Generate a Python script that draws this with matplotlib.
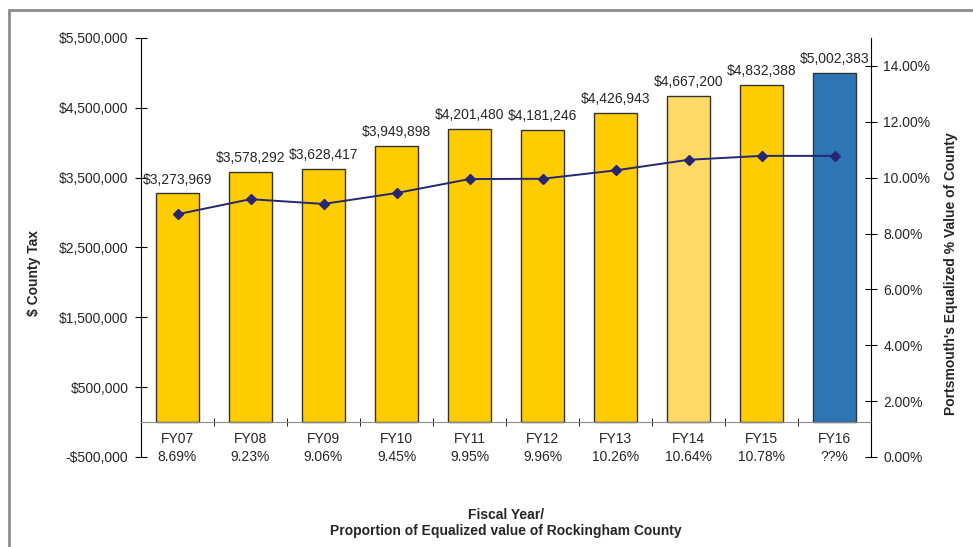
import matplotlib
matplotlib.use("Agg")
import matplotlib.pyplot as plt
from matplotlib.patches import Rectangle
from matplotlib.ticker import FuncFormatter
import numpy as np

plt.rcParams['font.family'] = ['Liberation Sans', 'DejaVu Sans']

# Fiscal years and county tax paid
years = ['FY07', 'FY08', 'FY09', 'FY10', 'FY11', 'FY12', 'FY13', 'FY14', 'FY15', 'FY16']
share_labels = ['8.69%', '9.23%', '9.06%', '9.45%', '9.95%', '9.96%', '10.26%',
                '10.64%', '10.78%', '??%']
county_tax = [3273969, 3578292, 3628417, 3949898, 4201480, 4181246, 4426943,
              4667200, 4832388, 5002383]
# Portsmouth's share of county equalized value (%)
equalized_share = [8.69, 9.23, 9.06, 9.45, 9.95, 9.96, 10.26, 10.64, 10.78, 10.78]

bar_colors = ['#FFCC00'] * 7 + ['#FFD966', '#FFCC00', '#2E75B6']
text_color = '#262626'

fig = plt.figure(figsize=(9.73, 5.47), dpi=100)
ax = fig.add_axes([141 / 973, 1 - 457 / 547, 730 / 973, 419 / 547])

x = np.arange(len(years))
bars = ax.bar(x, county_tax, width=0.58, color=bar_colors, edgecolor='#333333',
              linewidth=1.0, zorder=2)

for xi, v in zip(x, county_tax):
    ax.annotate(f'${v:,.0f}', (xi, v), xytext=(0, 10), textcoords='offset points',
                ha='center', va='center', fontsize=10, color=text_color)

ax.set_xlim(-0.5, len(years) - 0.5)
ax.set_ylim(-500000, 5500000)
ax.set_yticks(np.arange(-500000, 5500001, 1000000))
ax.yaxis.set_major_formatter(FuncFormatter(
    lambda v, p: f'-${abs(v):,.0f}' if v < 0 else f'${v:,.0f}'))

# category axis crosses at zero
ax.spines['bottom'].set_position(('data', 0))
ax.spines['bottom'].set_color('#8c8c8c')
ax.spines['top'].set_visible(False)
ax.spines['right'].set_visible(False)
ax.spines['left'].set_color('black')

ax.set_xticks(x)
ax.set_xticklabels([f'{y}\n{s}' for y, s in zip(years, share_labels)],
                   linespacing=1.38)
ax.set_xticks(x[:-1] + 0.5, minor=True)
ax.tick_params(axis='x', which='major', length=0, pad=7, labelsize=10,
               labelcolor=text_color)
ax.tick_params(axis='x', which='minor', length=6, direction='inout', color='black')
ax.tick_params(axis='y', length=8, direction='inout', pad=5, labelsize=10,
               labelcolor=text_color)

ax.set_ylabel('$ County Tax', fontsize=10, fontweight='bold', color=text_color)
ax.yaxis.set_label_coords(34 / 973, 0.5, transform=fig.transFigure)
ax.yaxis.label.set_va('center')

ax2 = ax.twinx()
ax2.plot(x, equalized_share, color='#262673', linewidth=1.4, marker='D',
         markersize=5, markerfacecolor='#262673', markeredgecolor='#262673', zorder=3)
ax2.set_ylim(0, 15)
ax2.set_yticks(np.arange(0, 14.01, 2))
ax2.yaxis.set_major_formatter(FuncFormatter(lambda v, p: f'{v:.2f}%'))
for s in ['top', 'left', 'bottom']:
    ax2.spines[s].set_visible(False)
ax2.spines['right'].set_color('black')
ax2.tick_params(axis='y', length=8, direction='inout', pad=5, labelsize=10,
                labelcolor=text_color)
ax2.set_ylabel("Portsmouth's Equalized % Value of County", fontsize=10,
               fontweight='bold', color=text_color)
ax2.yaxis.set_label_coords(951 / 973, 0.5, transform=fig.transFigure)
ax2.yaxis.label.set_va('center')

fig.text(506 / 973, 1 - 523 / 547,
         'Fiscal Year/\nProportion of Equalized value of Rockingham County',
         ha='center', va='center', fontsize=10, fontweight='bold',
         color=text_color, linespacing=1.1)

# chart frame
fig.add_artist(Rectangle((9 / 973, -0.1), 1.1, 1.1 - 10 / 547,
                         transform=fig.transFigure, fill=False,
                         edgecolor='#8c8c8c', linewidth=2))

fig.savefig('out.png', dpi=100)
